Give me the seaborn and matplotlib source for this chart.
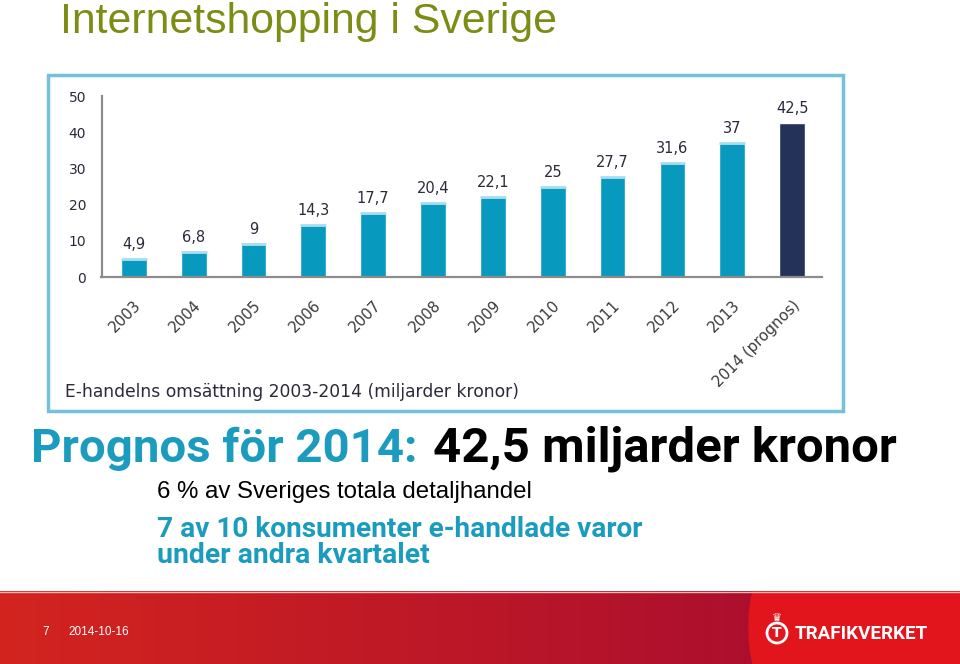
"""Slide: Internetshopping i Sverige - e-handelns omsättning 2003-2014."""

import matplotlib

matplotlib.use("Agg")

import matplotlib.pyplot as plt
import numpy as np
import pandas as pd
import seaborn as sns
from matplotlib.patches import Ellipse, Rectangle

# --- data --------------------------------------------------------------
YEARS = ["2003", "2004", "2005", "2006", "2007", "2008", "2009",
         "2010", "2011", "2012", "2013", "2014 (prognos)"]
VALUES = [4.9, 6.8, 9, 14.3, 17.7, 20.4, 22.1, 25, 27.7, 31.6, 37, 42.5]
KIND = ["utfall"] * 11 + ["prognos"]
Y_TICKS = [0, 10, 20, 30, 40, 50]

TITLE = "Internetshopping i Sverige"
CHART_CAPTION = "E-handelns omsättning 2003-2014 (miljarder kronor)"
HEADLINE_LEFT = "Prognos för 2014:"
HEADLINE_RIGHT = "42,5 miljarder kronor"
SUB_LINE = "6 % av Sveriges totala detaljhandel"
NOTE_LINES = ["7 av 10 konsumenter e-handlade varor", "under andra kvartalet"]
SLIDE_NO = "7"
SLIDE_DATE = "2014-10-16"
BRAND = "TRAFIKVERKET"

W, H = 960, 664
BAR_BLUE = "#0899bf"
BAR_NAVY = "#243259"
TEAL_TEXT = "#1b9cbf"
CHART_TEXT = "#2a2a3a"


def fx(x):
    return x / W


def fy(y):
    return 1 - y / H


def fit_text(fig, x, y, s, width, **kw):
    """Put text with its left baseline at pixel (x, y), scaled to a pixel width."""
    t = fig.text(fx(x), fy(y), s, ha="left", va="baseline", **kw)
    renderer = fig.canvas.get_renderer()
    w = t.get_window_extent(renderer).width
    t.set_fontsize(t.get_fontsize() * width / w)
    return t


sns.set_style("white")
plt.rcParams["font.family"] = ["DejaVu Sans"]

fig = plt.figure(figsize=(9.6, 6.64), dpi=100)
fig.patch.set_facecolor("white")

# frame round the chart picture
fig.add_artist(Rectangle((fx(48), fy(411)), fx(843) - fx(48), fy(75) - fy(411),
                         transform=fig.transFigure, fill=False,
                         edgecolor="#74c2da", lw=2.5))

# --- bar chart -----------------------------------------------------------
ax = fig.add_axes([fx(101.5), fy(277), fx(822) - fx(101.5), fy(96) - fy(277)])
frame = pd.DataFrame({"year": YEARS, "value": VALUES, "kind": KIND})
sns.barplot(data=frame, x="year", y="value", hue="kind",
            palette={"utfall": BAR_BLUE, "prognos": BAR_NAVY},
            width=0.43, dodge=False, saturation=1, legend=False, ax=ax)

blue_rgba = matplotlib.colors.to_rgba(BAR_BLUE)
for p in ax.patches:
    if np.allclose(p.get_facecolor(), blue_rgba, atol=0.01):
        ax.plot([p.get_x(), p.get_x() + p.get_width()], [p.get_height()] * 2,
                color="#a6def0", lw=2, solid_capstyle="butt")

for container in ax.containers:
    ax.bar_label(container, fmt=lambda v: f"{v:g}".replace(".", ","),
                 padding=5, fontsize=10.5, color=CHART_TEXT)

ax.set_xlim(-0.54, len(YEARS) - 0.5)
ax.set_ylim(0, 50)
ax.set_yticks(Y_TICKS)
ax.set_xticks(np.arange(-0.5, len(YEARS)), minor=True)
ax.set_xticks(range(len(YEARS)))
ax.set_xticklabels(YEARS, rotation=45, ha="right", rotation_mode="anchor")
ax.set_xlabel("")
ax.set_ylabel("")
sns.despine(ax=ax)
for side in ("left", "bottom"):
    ax.spines[side].set_color("#8c8c8c")
    ax.spines[side].set_linewidth(1.6)
ax.tick_params(axis="y", length=4, width=1.2, color="#8c8c8c", pad=7,
               labelsize=10, labelcolor=CHART_TEXT)
ax.tick_params(axis="x", which="major", length=0, pad=15,
               labelsize=10.8, labelcolor="#3a3a3a")
ax.tick_params(axis="x", which="minor", length=5, width=1.2, color="#8c8c8c",
               direction="out")
ax.set_facecolor("white")

fit_text(fig, 65, 397, CHART_CAPTION, 453, fontsize=11, color=CHART_TEXT)

# --- slide texts ---------------------------------------------------------
fit_text(fig, 60, 33, TITLE, 495, fontsize=30, color="#7d8c14",
         family=["Liberation Sans", "DejaVu Sans"])

bold_family = ["Roboto", "DejaVu Sans"]
fit_text(fig, 31, 462, HEADLINE_LEFT, 386, fontsize=28, color=TEAL_TEXT,
         weight="bold", family=bold_family)
fit_text(fig, 433, 462, HEADLINE_RIGHT, 464, fontsize=28, color="black",
         weight="bold", family=bold_family)

fit_text(fig, 157, 498, SUB_LINE, 376, fontsize=16, color="black",
         family=["Liberation Sans", "DejaVu Sans"])
fit_text(fig, 157, 537, NOTE_LINES[0], 488, fontsize=16, color=TEAL_TEXT,
         weight="bold", family=bold_family)
fit_text(fig, 157, 563, NOTE_LINES[1], 273, fontsize=16, color=TEAL_TEXT,
         weight="bold", family=bold_family)

# --- red footer ------------------------------------------------------------
foot = fig.add_axes([0, 0, 1, fy(591)])
foot.set_xlim(0, W)
foot.set_ylim(H, 591)
foot.axis("off")
left_c = np.array(matplotlib.colors.to_rgb("#d3241f"))
right_c = np.array(matplotlib.colors.to_rgb("#ac0f2e"))
ramp = np.linspace(0, 1, 256)[None, :, None]
gradient = left_c * (1 - ramp) + right_c * ramp
foot.imshow(gradient, extent=[0, 765, H, 591], aspect="auto", zorder=1)
foot.add_patch(Ellipse((761, 627.5), 24, 96, color="#e2151d", zorder=2))
foot.add_patch(Rectangle((761, 591), W - 761, 73, color="#e2151d", zorder=2))
foot.plot([0, W], [591.5, 591.5], color="#eeb4b4", lw=1, zorder=3)

foot.text(42, 632, SLIDE_NO, color="white", fontsize=8.5, va="center",
          family=["Liberation Sans"])
foot.text(68, 632, SLIDE_DATE, color="white", fontsize=8.5, va="center",
          family=["Liberation Sans"])

foot.add_patch(Ellipse((777, 633), 20, 20, fill=False, edgecolor="white",
                       lw=2, zorder=4))
foot.text(777, 633, "T", color="white", fontsize=10, weight="bold",
          ha="center", va="center", zorder=5)
foot.text(777, 618, "\u265b", color="white", fontsize=8, ha="center",
          va="center", zorder=5)
fit_text(fig, 795, 639, BRAND, 133, fontsize=14, color="white", weight="bold",
         family=["Roboto", "DejaVu Sans"])

fig.savefig("out.png", dpi=100, facecolor="white")
